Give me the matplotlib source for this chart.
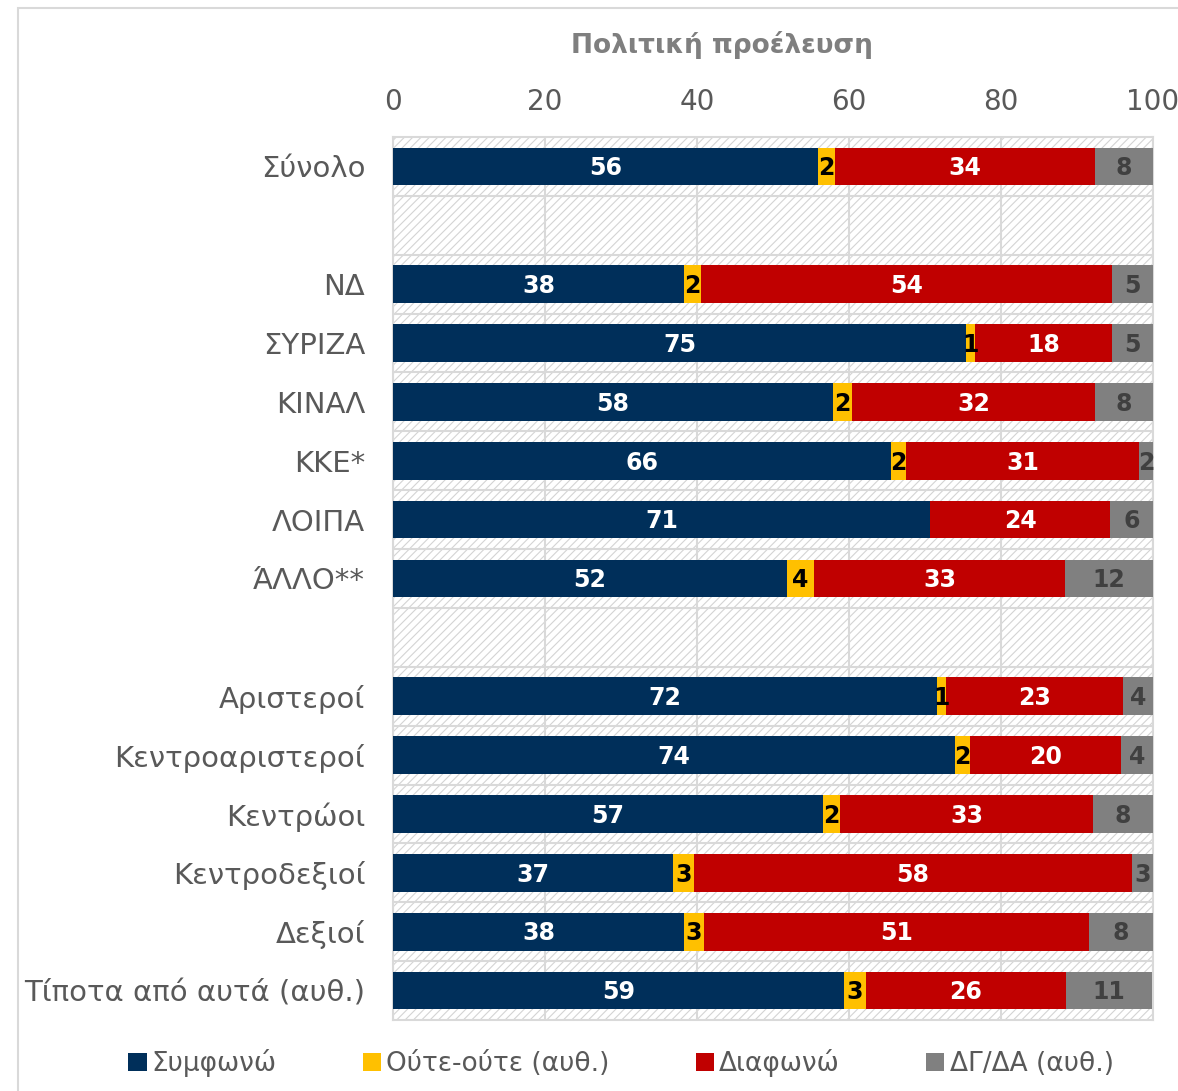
import matplotlib.pyplot as plt
from matplotlib.patches import Rectangle

# data (percent)
categories = ['Σύνολο', '', 'ΝΔ', 'ΣΥΡΙΖΑ', 'ΚΙΝΑΛ', 'ΚΚΕ*', 'ΛΟΙΠΑ', 'ΆΛΛΟ**', '',
              'Αριστεροί', 'Κεντροαριστεροί', 'Κεντρώοι', 'Κεντροδεξιοί', 'Δεξιοί',
              'Τίποτα από αυτά (αυθ.)']
agree =    [55.9, None, 38.3, 75.4, 57.9, 65.5, 70.7, 51.8, None, 71.6, 73.9, 56.6, 36.8, 38.3, 59.4]
neither =  [2.2, None, 2.2, 1.2, 2.5, 2.0, 0.0, 3.6, None, 1.2, 2.0, 2.2, 2.8, 2.6, 2.8]
disagree = [34.3, None, 54.1, 18.0, 32.0, 30.7, 23.7, 33.0, None, 23.3, 19.9, 33.3, 57.6, 50.7, 26.3]
dkna =     [7.6, None, 5.4, 5.4, 7.6, 1.8, 5.6, 11.6, None, 3.9, 4.2, 7.9, 2.8, 8.4, 11.4]

series_names = ['Συμφωνώ', 'Ούτε-ούτε (αυθ.)', 'Διαφωνώ', 'ΔΓ/ΔΑ (αυθ.)']
colors = ['#002F5A', '#FFC000', '#C00000', '#808080']
label_colors = ['white', 'black', 'white', '#404040']
series = [agree, neither, disagree, dkna]

plt.rcParams['font.family'] = ['DejaVu Sans']
plt.rcParams['hatch.linewidth'] = 0.8

fig = plt.figure(figsize=(11.78, 10.91), dpi=100)
ax = fig.add_axes([393 / 1178, 1 - 1020 / 1091, 760 / 1178, 883 / 1091])

# hatched plot background
ax.add_patch(Rectangle((0, 0), 1, 1, transform=ax.transAxes, facecolor='white',
                       edgecolor='#d4d4d4', hatch='////', linewidth=0, zorder=0))

ypos = list(range(len(categories)))
left = [0.0] * len(categories)
for vals, name, col, lc in zip(series, series_names, colors, label_colors):
    for i, v in enumerate(vals):
        if v is None:
            continue
        if v > 0:
            ax.barh(ypos[i], v, left=left[i], height=0.64, color=col, zorder=3,
                    label=name if i == 0 else None)
            ax.text(left[i] + v / 2, ypos[i] + 0.03, f'{round(v):d}', ha='center', va='center',
                    color=lc, fontsize=17, fontweight='bold', zorder=4)
        left[i] += v

ax.set_xlim(0, 100)
ax.set_ylim(len(categories) - 0.5, -0.5)
ax.set_yticks(ypos)
ax.set_yticklabels(categories, fontsize=21, color='#595959')
ax.set_yticks([k + 0.5 for k in range(len(categories) - 1)], minor=True)
ax.xaxis.tick_top()
ax.set_xticks([0, 20, 40, 60, 80, 100])
ax.tick_params(axis='x', labelsize=20, labelcolor='#595959', length=0, pad=15)
ax.tick_params(axis='y', which='both', length=0, pad=20)
ax.grid(axis='x', color='#d9d9d9', linewidth=1.5, zorder=1)
ax.grid(axis='y', which='minor', color='#d9d9d9', linewidth=1.5, zorder=1)
ax.grid(axis='y', which='major', visible=False)
for s in ax.spines.values():
    s.set_color('#d9d9d9')
    s.set_linewidth(1.5)

fig.text(722 / 1178, 1 - 45 / 1091, 'Πολιτική προέλευση', ha='center', va='center',
         fontsize=19, fontweight='bold', color='#7f7f7f')

# figure frame
fig.add_artist(Rectangle((18 / 1178, -0.01), 1.2, 1 - 8 / 1091 + 0.01, transform=fig.transFigure,
                         fill=False, edgecolor='#d9d9d9', linewidth=1.5))

handles, labels = ax.get_legend_handles_labels()
leg = fig.legend(handles, labels, loc='center', bbox_to_anchor=(0.527, 1 - 1063 / 1091), ncol=4,
                 frameon=False, fontsize=19, handlelength=0.7, handleheight=0.7,
                 handletextpad=0.2, columnspacing=3.25)
for t in leg.get_texts():
    t.set_color('#595959')

fig.savefig('out.png', dpi=100)
